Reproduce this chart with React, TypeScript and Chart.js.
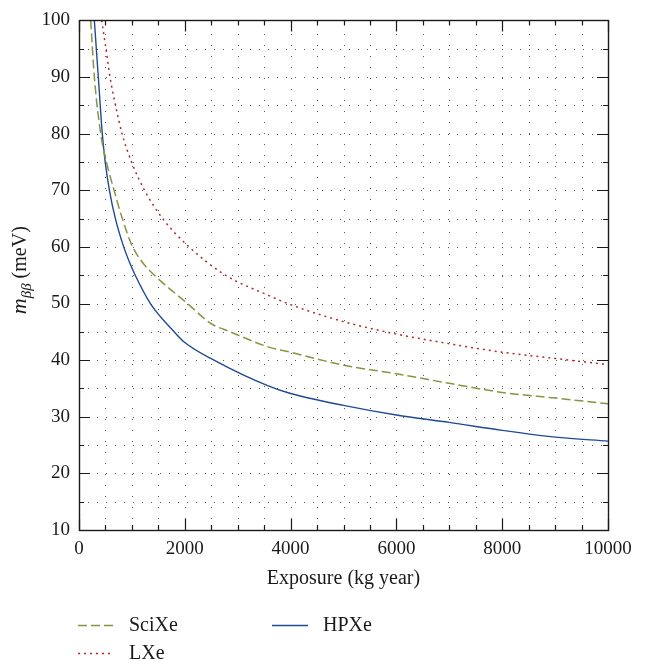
import React, { useEffect, useRef } from "react";
import { Chart, registerables } from "chart.js";

Chart.register(...registerables);

// ---- Data ----
const sciXeExposure = [221, 290, 410, 519, 663, 819, 1000, 1180, 1425, 2050, 2488, 2860, 3590, 4000, 5000, 6000, 7000, 8000, 9000, 10000];
const sciXeMass = [100, 90, 80, 75, 70, 65, 60.3, 57.5, 55, 50, 46.5, 45, 42.3, 41.4, 39.1, 37.6, 35.9, 34.3, 33.3, 32.3];

const lXeExposure = [429, 510, 586, 690, 813, 993, 1238, 1581, 2081, 2769, 3590, 4000, 5000, 6000, 7000, 8000, 9000, 10000];
const lXeMass = [100, 95, 90, 85, 80, 75, 70, 65, 60, 55, 51.4, 49.8, 46.8, 44.6, 42.9, 41.4, 40.3, 39.2];

const hpXeExposure = [290, 365, 440, 495, 575, 688, 845, 945, 1063, 1350, 1800, 2000, 2550, 3590, 4000, 5000, 6000, 7000, 8000, 9000, 10000];
const hpXeMass = [100, 90, 80, 75, 70, 65, 60, 57.5, 55, 50, 45, 43.1, 40, 35.4, 34.1, 32.0, 30.3, 29.0, 27.6, 26.4, 25.7];

const xLabelTicks = [0, 2000, 4000, 6000, 8000, 10000];
const yLabelTicks = [10, 20, 30, 40, 50, 60, 70, 80, 90, 100];

const xTitle = "Exposure (kg year)";
const yTitleMain = "m";
const yTitleSub = "ββ";
const yTitleUnit = " (meV)";

const FONT = '"Liberation Serif", "Times New Roman", serif';
const FONT_SIZE = 19;

const toPoints = (xs: number[], ys: number[]) => xs.map((x, i) => ({ x, y: ys[i] }));

const legendSlots = [
  { col: 0, row: 0 },
  { col: 0, row: 1 },
  { col: 1, row: 0 },
];

const framePlugin = {
  id: "frame",
  beforeDatasetsDraw(chart: any) {
    const { ctx, chartArea: a, scales } = chart;
    const xs = scales.x;
    const ys = scales.y;
    ctx.save();
    ctx.strokeStyle = "#555";
    ctx.lineWidth = 1;
    ctx.setLineDash([1, 10]);
    xs.ticks.forEach((t: any) => {
      if (t.value <= xs.min || t.value >= xs.max) return;
      const px = Math.round(xs.getPixelForValue(t.value)) + 0.5;
      ctx.beginPath();
      ctx.moveTo(px, a.bottom);
      ctx.lineTo(px, a.top);
      ctx.stroke();
    });
    ctx.setLineDash([1, 8]);
    ys.ticks.forEach((t: any) => {
      if (t.value <= ys.min || t.value >= ys.max) return;
      const py = Math.round(ys.getPixelForValue(t.value)) + 0.5;
      ctx.beginPath();
      ctx.moveTo(a.left, py);
      ctx.lineTo(a.right, py);
      ctx.stroke();
    });
    ctx.restore();
  },
  afterDatasetsDraw(chart: any) {
    const { ctx, chartArea: a, scales } = chart;
    const xs = scales.x;
    const ys = scales.y;
    ctx.save();
    ctx.strokeStyle = "#1a1a1a";
    ctx.lineWidth = 1.2;
    ctx.setLineDash([]);
    xs.ticks.forEach((t: any) => {
      const px = Math.round(xs.getPixelForValue(t.value)) + 0.5;
      const len = xLabelTicks.includes(t.value) ? 11 : 5;
      ctx.beginPath();
      ctx.moveTo(px, a.bottom);
      ctx.lineTo(px, a.bottom - len);
      ctx.moveTo(px, a.top);
      ctx.lineTo(px, a.top + len);
      ctx.stroke();
    });
    ys.ticks.forEach((t: any) => {
      const py = Math.round(ys.getPixelForValue(t.value)) + 0.5;
      const len = yLabelTicks.includes(t.value) ? 11 : 5;
      ctx.beginPath();
      ctx.moveTo(a.left, py);
      ctx.lineTo(a.left + len, py);
      ctx.moveTo(a.right, py);
      ctx.lineTo(a.right - len, py);
      ctx.stroke();
    });
    ctx.lineWidth = 1.4;
    ctx.strokeRect(Math.round(a.left) + 0.5, Math.round(a.top) + 0.5, Math.round(a.right - a.left), Math.round(a.bottom - a.top));
    ctx.restore();
  },
  afterDraw(chart: any) {
    const { ctx, chartArea: a } = chart;
    ctx.save();
    ctx.fillStyle = "#1a1a1a";
    // x title
    ctx.font = `${FONT_SIZE + 1}px ${FONT}`;
    ctx.textAlign = "center";
    ctx.textBaseline = "alphabetic";
    ctx.fillText(xTitle, (a.left + a.right) / 2, a.bottom + 54);

    // y title (rotated)
    ctx.save();
    ctx.translate(26, (a.top + a.bottom) / 2 - 5);
    ctx.rotate(-Math.PI / 2);
    const mainFont = `italic ${FONT_SIZE + 3}px ${FONT}`;
    const subFont = `italic ${FONT_SIZE - 4}px ${FONT}`;
    const unitFont = `${FONT_SIZE + 1}px ${FONT}`;
    ctx.font = mainFont;
    const w1 = ctx.measureText(yTitleMain).width;
    ctx.font = subFont;
    const w2 = ctx.measureText(yTitleSub).width;
    ctx.font = unitFont;
    const w3 = ctx.measureText(yTitleUnit).width;
    let cx = -(w1 + w2 + w3) / 2;
    ctx.textAlign = "left";
    ctx.font = mainFont;
    ctx.fillText(yTitleMain, cx, 0);
    cx += w1;
    ctx.font = subFont;
    ctx.fillText(yTitleSub, cx, 5);
    cx += w2;
    ctx.font = unitFont;
    ctx.fillText(yTitleUnit, cx, 0);
    ctx.restore();

    // legend
    chart.data.datasets.forEach((ds: any, i: number) => {
      const slot = legendSlots[i];
      const lx = 78 + slot.col * 194;
      const ly = 625 + slot.row * 28;
      ctx.save();
      ctx.strokeStyle = ds.borderColor;
      ctx.lineWidth = ds.borderWidth;
      ctx.setLineDash(ds.borderDash || []);
      ctx.beginPath();
      ctx.moveTo(lx, ly + 0.5);
      ctx.lineTo(lx + 36, ly + 0.5);
      ctx.stroke();
      ctx.restore();
      ctx.font = `${FONT_SIZE + 1}px ${FONT}`;
      ctx.textAlign = "left";
      ctx.textBaseline = "middle";
      ctx.fillStyle = "#1a1a1a";
      ctx.fillText(ds.label, lx + 51, ly + 1);
    });
    ctx.restore();
  },
};

export default function App() {
  const ref = useRef<HTMLCanvasElement | null>(null);

  useEffect(() => {
    if (!ref.current) return;
    const chart = new Chart(ref.current, {
      type: "line",
      data: {
        datasets: [
          {
            label: "SciXe",
            data: toPoints(sciXeExposure, sciXeMass),
            borderColor: "#8a9440",
            borderWidth: 1.5,
            borderDash: [9, 4],
            pointRadius: 0,
            fill: false,
            cubicInterpolationMode: "monotone",
          },
          {
            label: "LXe",
            data: toPoints(lXeExposure, lXeMass),
            borderColor: "#b0282c",
            borderWidth: 1.5,
            borderDash: [2, 4],
            pointRadius: 0,
            fill: false,
            cubicInterpolationMode: "monotone",
          },
          {
            label: "HPXe",
            data: toPoints(hpXeExposure, hpXeMass),
            borderColor: "#1f4a94",
            borderWidth: 1.4,
            pointRadius: 0,
            fill: false,
            cubicInterpolationMode: "monotone",
          },
        ],
      },
      options: {
        responsive: false,
        animation: false,
        devicePixelRatio: 1,
        layout: { padding: { top: 12, right: 43, left: 0, bottom: 0 } },
        plugins: {
          legend: { display: false },
          tooltip: { enabled: false },
        },
        scales: {
          x: {
            type: "linear",
            min: 0,
            max: 10000,
            grid: { display: false, drawTicks: false },
            border: { display: false },
            ticks: {
              stepSize: 500,
              autoSkip: false,
              maxRotation: 0,
              padding: 8,
              color: "#1a1a1a",
              font: { family: FONT, size: FONT_SIZE },
              callback: (v: any) => (xLabelTicks.includes(Number(v)) ? String(v) : ""),
            },
            afterFit: (s: any) => {
              s.height = 661 - 530;
            },
          },
          y: {
            type: "linear",
            min: 10,
            max: 100,
            grid: { display: false, drawTicks: false },
            border: { display: false },
            ticks: {
              stepSize: 5,
              autoSkip: false,
              padding: 9,
              color: "#1a1a1a",
              font: { family: FONT, size: FONT_SIZE },
              callback: (v: any) => (yLabelTicks.includes(Number(v)) ? String(v) : ""),
            },
            afterFit: (s: any) => {
              s.width = 79;
            },
          },
        },
      },
      plugins: [framePlugin],
    });
    return () => chart.destroy();
  }, []);

  return (
    <div style={{ position: "absolute", left: 0, top: 0, width: 651, height: 661, background: "#fff" }}>
      <canvas ref={ref} width={651} height={661} style={{ width: 651, height: 661, display: "block" }} />
    </div>
  );
}
